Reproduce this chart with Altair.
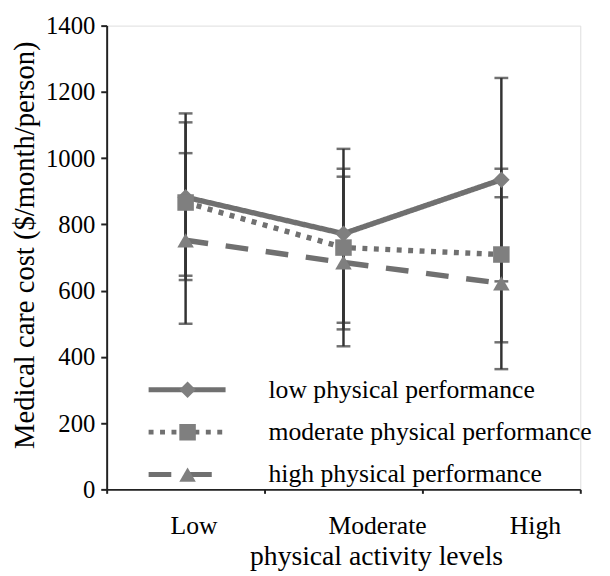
import altair as alt
import pandas as pd

levels = ["Low", "Moderate", "High"]
groups = ["low physical performance", "moderate physical performance", "high physical performance"]

low_mean = [882, 772, 935]
low_lo = [645, 503, 628]
low_hi = [1135, 1028, 1242]

mod_mean = [866, 730, 709]
mod_lo = [632, 483, 444]
mod_hi = [1108, 968, 968]

high_mean = [752, 685, 622]
high_lo = [500, 432, 363]
high_hi = [1015, 944, 882]

y_ticks = [0, 200, 400, 600, 800, 1000, 1200, 1400]

rows = []
for g, m, lo, hi in [(groups[0], low_mean, low_lo, low_hi),
                     (groups[1], mod_mean, mod_lo, mod_hi),
                     (groups[2], high_mean, high_lo, high_hi)]:
    for i, lev in enumerate(levels):
        rows.append({"level": lev, "group": g, "marker": g, "mean": m[i], "lo": lo[i], "hi": hi[i]})
df = pd.DataFrame(rows)

FONT = "Times New Roman, Liberation Serif, DejaVu Serif, serif"

x_scale = alt.Scale(type="band", paddingInner=0, paddingOuter=0)
x_axis = alt.Axis(
    title="physical activity levels", titleX=273, titleY=76, titleBaseline="alphabetic",
    labelAngle=0, labelPadding=20,
    labelOffset={"condition": {"test": "datum.label == 'Low'", "value": 8}, "value": 34},
    tickBand="extent", tickSize=4,
)
y_scale = alt.Scale(domain=[0, 1400], nice=False)
y_axis = alt.Axis(
    values=y_ticks, format="d", title="Medical care cost ($/month/person)",
    titleX=-68, titleY=222, titleBaseline="bottom", titleAlign="center",
    labelPadding=6, tickSize=6,
)


def X():
    return alt.X("level:N", sort=levels, scale=x_scale, axis=x_axis)


def Y(field):
    return alt.Y(field, type="quantitative", scale=y_scale, axis=y_axis)


base = alt.Chart(df)

rules = base.mark_rule(color="#333333", strokeWidth=2.5).encode(
    x=X(), y=Y("lo"), y2="hi:Q", detail="group:N"
)
cap_lo = base.mark_tick(color="#333333", size=14, thickness=2.5).encode(
    x=X(), y=Y("lo"), detail="group:N"
)
cap_hi = base.mark_tick(color="#333333", size=14, thickness=2.5).encode(
    x=X(), y=Y("hi"), detail="group:N"
)

lines = base.mark_line(color="#707070", strokeWidth=5.5).encode(
    x=X(), y=Y("mean"),
    strokeDash=alt.StrokeDash(
        "group:N", sort=groups,
        scale=alt.Scale(range=[[1, 0], [5, 6.6], [23, 18]]),
        legend=alt.Legend(
            title=None, orient="none", legendX=40, legendY=356, padding=0,
            symbolType="stroke", symbolSize=6084, symbolStrokeWidth=5,
            symbolStrokeColor="#707070", clipHeight=26, rowPadding=17,
            labelFont=FONT, labelFontSize=26, labelColor="black", labelOffset=41,
            labelLimit=400,
        ),
    ),
)

points = base.mark_point(filled=True, color="#7f7f7f", size=280, opacity=1).encode(
    x=X(), y=Y("mean"),
    shape=alt.Shape(
        "marker:N", sort=groups,
        scale=alt.Scale(range=["diamond", "square", "triangle-up"]),
        legend=alt.Legend(
            title=None, orient="none", legendX=69, legendY=356, padding=0,
            symbolSize=280, symbolFillColor="#7f7f7f", symbolStrokeWidth=0,
            symbolOpacity=1, clipHeight=26, rowPadding=17,
            labelFont=FONT, labelFontSize=26, labelExpr="''",
        ),
    ),
)

chart = alt.layer(rules, cap_lo, cap_hi, lines, points).properties(
    width=480, height=470,
    autosize=alt.AutoSizeParams(type="none"),
    padding={"left": 100, "top": 14, "right": 22, "bottom": 90},
).configure_view(stroke=None).configure(background="white", font=FONT).configure_axis(
    labelFont=FONT, titleFont=FONT, labelColor="black", titleColor="black",
    titleFontWeight="normal", grid=False, domainWidth=2, domainColor="#222",
    tickWidth=2, tickColor="#222",
).configure_axisX(
    labelFontSize=26, titleFontSize=28,
).configure_axisY(
    labelFontSize=25, titleFontSize=29,
).configure_legend(
    labelFont=FONT,
)

chart.save("out.html", embed_options={"renderer": "svg", "actions": False})
